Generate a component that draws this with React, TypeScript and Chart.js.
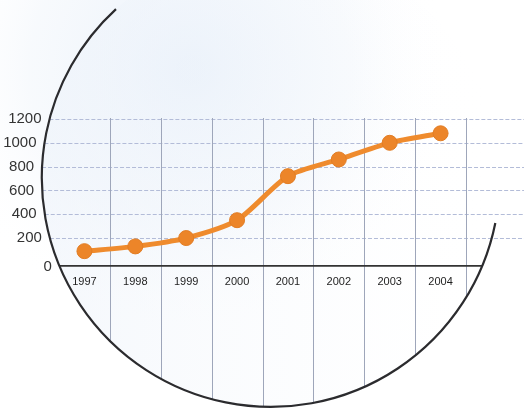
import React, { useEffect, useRef } from 'react';
import { Chart, registerables } from 'chart.js';

Chart.register(...registerables);

const YEARS = ['1997', '1998', '1999', '2000', '2001', '2002', '2003', '2004'];
const VALUES = [90, 130, 200, 350, 720, 860, 1000, 1080];
const Y_TICKS = [0, 200, 400, 600, 800, 1000, 1200];

const W = 524;
const H = 410;
const FONT = '"Liberation Sans", Arial, sans-serif';

// decorative circle (canvas coordinates)
const CIRCLE = { cx: 270.8, cy: 177.9, r: 229, start: 0.198, end: 3.97 };

function circleX(y: number, side: number) {
  const dy = y - CIRCLE.cy;
  const d = Math.sqrt(Math.max(0, CIRCLE.r * CIRCLE.r - dy * dy));
  return CIRCLE.cx + side * d;
}
function circleBottomY(x: number) {
  const dx = x - CIRCLE.cx;
  return CIRCLE.cy + Math.sqrt(Math.max(0, CIRCLE.r * CIRCLE.r - dx * dx));
}

const decor = {
  id: 'decor',
  beforeDraw(chart: any) {
    const ctx = chart.ctx;
    ctx.save();
    ctx.fillStyle = '#ffffff';
    ctx.fillRect(0, 0, chart.width, chart.height);
    const g = ctx.createRadialGradient(190, 70, 10, 190, 70, 260);
    g.addColorStop(0, 'rgba(232,240,250,0.9)');
    g.addColorStop(0.6, 'rgba(240,245,251,0.5)');
    g.addColorStop(1, 'rgba(255,255,255,0)');
    ctx.fillStyle = g;
    ctx.fillRect(0, 0, chart.width, chart.height);
    // faint tint inside the circle
    ctx.beginPath();
    ctx.arc(CIRCLE.cx, CIRCLE.cy, CIRCLE.r, 0, Math.PI * 2);
    const lg = ctx.createLinearGradient(CIRCLE.cx - CIRCLE.r, 0, CIRCLE.cx + CIRCLE.r, 0);
    lg.addColorStop(0, 'rgba(236,242,250,0.55)');
    lg.addColorStop(0.6, 'rgba(245,248,252,0.25)');
    lg.addColorStop(1, 'rgba(255,255,255,0)');
    ctx.fillStyle = lg;
    ctx.fill();
    ctx.restore();
  },
  beforeDatasetsDraw(chart: any) {
    const ctx = chart.ctx;
    const xs = chart.scales.x;
    const ys = chart.scales.y;
    const area = chart.chartArea;
    const cw = (area.right - area.left) / YEARS.length;
    ctx.save();

    // dashed horizontal grid lines
    ctx.strokeStyle = '#b3bcd8';
    ctx.lineWidth = 1;
    ctx.setLineDash([4, 2]);
    Y_TICKS.forEach((v) => {
      if (v === 0) return;
      const y = Math.round(ys.getPixelForValue(v)) + 0.5;
      ctx.beginPath();
      ctx.moveTo(circleX(y, -1), y);
      ctx.lineTo(chart.width, y);
      ctx.stroke();
    });
    ctx.setLineDash([]);

    // vertical lines at category boundaries, running down to the circle
    ctx.strokeStyle = '#9ea6ba';
    ctx.lineWidth = 1;
    YEARS.forEach((_, i) => {
      const x = Math.round(xs.getPixelForValue(i) + cw / 2) + 0.5;
      ctx.beginPath();
      ctx.moveTo(x, ys.getPixelForValue(Y_TICKS[Y_TICKS.length - 1]) - 1);
      ctx.lineTo(x, circleBottomY(x));
      ctx.stroke();
    });

    // x axis line
    const yb = area.bottom;
    ctx.strokeStyle = '#333333';
    ctx.lineWidth = 1.8;
    ctx.beginPath();
    ctx.moveTo(circleX(yb, -1), yb);
    ctx.lineTo(circleX(yb, 1), yb);
    ctx.stroke();

    // circle arc
    ctx.strokeStyle = '#2b2b2e';
    ctx.lineWidth = 2.2;
    ctx.beginPath();
    ctx.arc(CIRCLE.cx, CIRCLE.cy, CIRCLE.r, CIRCLE.start, CIRCLE.end, false);
    ctx.stroke();

    // y labels following the circle
    ctx.fillStyle = '#333333';
    ctx.font = '15px ' + FONT;
    ctx.textAlign = 'right';
    ctx.textBaseline = 'middle';
    Y_TICKS.forEach((v) => {
      let y = ys.getPixelForValue(v);
      if (v === 0) y = area.bottom + 1;
      ctx.fillText(String(v), circleX(y, -1) - 8, y);
    });
    ctx.restore();
  },
};

export default function App() {
  const ref = useRef<HTMLCanvasElement | null>(null);
  useEffect(() => {
    document.body.style.margin = '0';
    if (!ref.current) return;
    const chart = new Chart(ref.current, {
      type: 'line',
      data: {
        labels: YEARS,
        datasets: [
          {
            data: VALUES,
            borderColor: '#ef8b2d',
            borderWidth: 5,
            pointRadius: 7.5,
            pointBackgroundColor: '#ec8529',
            pointBorderColor: '#e27d24',
            pointBorderWidth: 1,
            tension: 0.25,
            fill: false,
          },
        ],
      },
      options: {
        responsive: false,
        animation: false,
        layout: { padding: { left: 59, right: 58, top: 119, bottom: 111 } },
        plugins: { legend: { display: false }, tooltip: { enabled: false } },
        scales: {
          x: {
            offset: true,
            grid: { display: false, drawTicks: false },
            border: { display: false },
            ticks: {
              padding: 10,
              color: '#1e1e1e',
              font: { family: FONT, size: 11 },
              maxRotation: 0,
              autoSkip: false,
            },
          },
          y: { display: false, min: -33, max: 1200 },
        },
      },
      plugins: [decor],
    } as any);
    return () => chart.destroy();
  }, []);
  return (
    <div style={{ width: W, height: H }}>
      <canvas ref={ref} width={W} height={H} style={{ display: 'block' }} />
    </div>
  );
}
